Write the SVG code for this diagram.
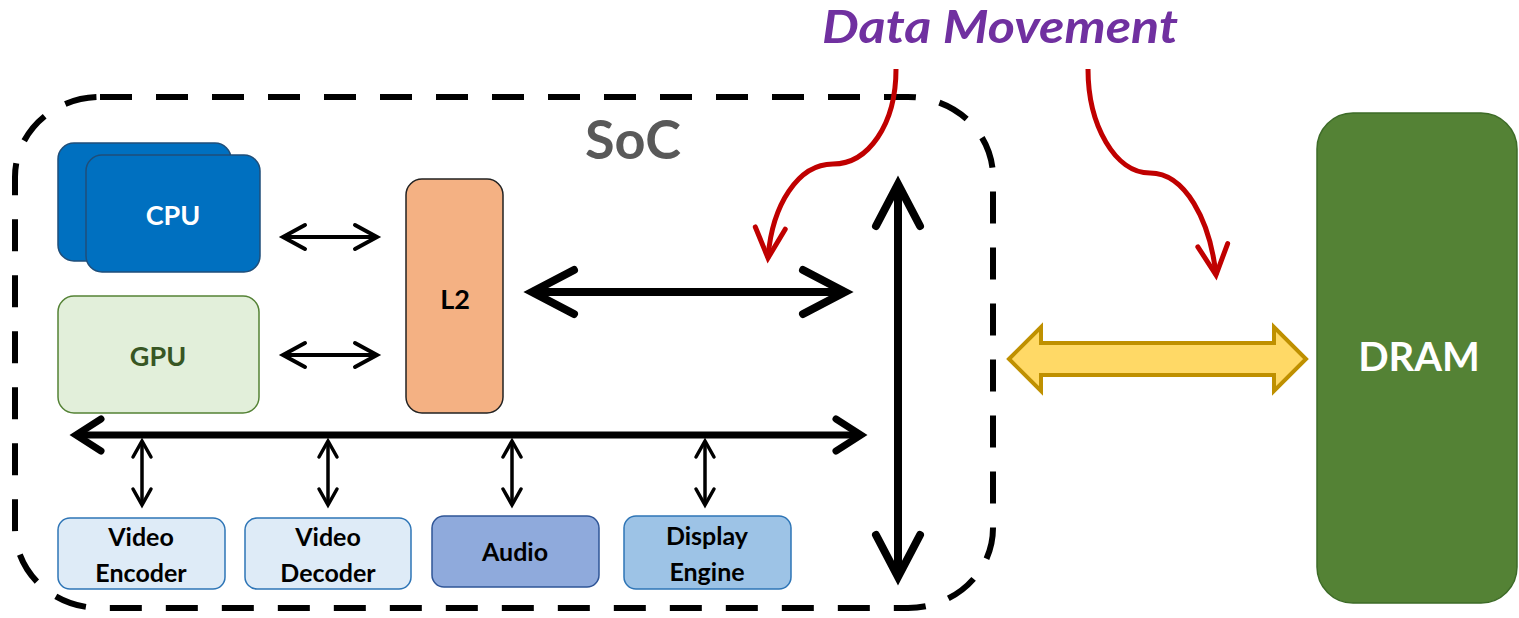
<svg xmlns="http://www.w3.org/2000/svg" width="1519" height="618" viewBox="0 0 1519 618">
<style>
.lbl{font-family:Lato,"Open Sans","Liberation Sans",sans-serif;font-weight:bold;text-anchor:middle;dominant-baseline:central}
.sub{font-family:Lato,"Open Sans","Liberation Sans",sans-serif;font-weight:bold;text-anchor:middle;font-size:25px;fill:#000}
.box{stroke-width:1.5}
.small{stroke:#000;stroke-width:4;fill:none}
.vsmall{stroke:#000;stroke-width:3.5;fill:none}
.big{stroke:#000;stroke-width:8;fill:none}
.bus{stroke:#000;stroke-width:7;fill:none}
.red{stroke:#C00000;stroke-width:5;fill:none}
</style>
<defs>
<marker id="mSmall" markerUnits="userSpaceOnUse" viewBox="-30 -20 40 40" markerWidth="40" markerHeight="40" refX="0" refY="0" orient="auto-start-reverse" overflow="visible">
<path d="M-22,-12 L0,0 L-22,12" fill="none" stroke="#000" stroke-width="4" stroke-linecap="round"/>
</marker>
<marker id="mVsmall" markerUnits="userSpaceOnUse" viewBox="-30 -20 40 40" markerWidth="40" markerHeight="40" refX="0" refY="0" orient="auto-start-reverse" overflow="visible">
<path d="M-16,-9 L0,0 L-16,9" fill="none" stroke="#000" stroke-width="3.5" stroke-linecap="round"/>
</marker>
<marker id="mBig" markerUnits="userSpaceOnUse" viewBox="-60 -40 80 80" markerWidth="80" markerHeight="80" refX="0" refY="0" orient="auto-start-reverse" overflow="visible">
<path d="M-42,-22 L0,0 L-42,22" fill="none" stroke="#000" stroke-width="8" stroke-linecap="round"/>
</marker>
<marker id="mBus" markerUnits="userSpaceOnUse" viewBox="-40 -30 60 60" markerWidth="60" markerHeight="60" refX="0" refY="0" orient="auto-start-reverse" overflow="visible">
<path d="M-25,-16 L0,0 L-25,16" fill="none" stroke="#000" stroke-width="7" stroke-linecap="round"/>
</marker>
<marker id="mRed" markerUnits="userSpaceOnUse" viewBox="-40 -30 60 60" markerWidth="60" markerHeight="60" refX="0" refY="0" orient="auto" overflow="visible">
<path d="M-30,-15 L0,0 L-30,15" fill="none" stroke="#C00000" stroke-width="5" stroke-linecap="round"/>
</marker>
</defs>
<rect width="1519" height="618" fill="#fff"/>

<g id="soc">
<rect x="15" y="97" width="978" height="511" rx="85" ry="80" fill="none" stroke="#000" stroke-width="6" stroke-dasharray="32 24"/>
<text class="lbl" x="633" y="138" font-size="54" fill="#595959">SoC</text>
</g>

<g id="cpu">
<rect x="58" y="143" width="173" height="118" rx="16" fill="#0070C0" stroke="#1F4E79" class="box"/>
<rect x="86" y="155" width="174" height="117" rx="16" fill="#0070C0" stroke="#1F4E79" class="box"/>
<text class="lbl" x="173" y="214" font-size="27" fill="#fff">CPU</text>
</g>

<g id="gpu">
<rect x="58" y="296" width="201" height="117" rx="16" fill="#E2EFDA" stroke="#548235" class="box"/>
<text class="lbl" x="158" y="355" font-size="27" fill="#375623">GPU</text>
</g>

<g id="l2">
<rect x="406" y="179" width="97" height="234" rx="16" fill="#F4B183" stroke="#222" class="box"/>
<text class="lbl" x="455" y="298" font-size="27" fill="#000">L2</text>
</g>

<g id="venc">
<rect x="58" y="518" width="167" height="71" rx="12" fill="#DEEBF7" stroke="#2E75B6" class="box"/>
<text class="sub" x="141" y="546">Video</text>
<text class="sub" x="141" y="582">Encoder</text>
</g>

<g id="vdec">
<rect x="245" y="518" width="166" height="71" rx="12" fill="#DEEBF7" stroke="#2E75B6" class="box"/>
<text class="sub" x="328" y="546">Video</text>
<text class="sub" x="328" y="582">Decoder</text>
</g>

<g id="audio">
<rect x="432" y="516" width="167" height="71" rx="12" fill="#8FAADC" stroke="#2F5597" class="box"/>
<text class="sub" x="515" y="561">Audio</text>
</g>

<g id="display">
<rect x="624" y="516" width="167" height="73" rx="12" fill="#9DC3E6" stroke="#2E75B6" class="box"/>
<text class="sub" x="707" y="545">Display</text>
<text class="sub" x="707" y="581">Engine</text>
</g>

<g id="dram">
<rect x="1317" y="113" width="200" height="490" rx="36" fill="#548235" stroke="#3D6B27" class="box"/>
<text class="lbl" x="1419" y="356" font-size="40" fill="#fff">DRAM</text>
</g>

<g id="label-data-movement">
<text x="822" y="43" font-family="Lato,'Open Sans','Liberation Sans',sans-serif" font-weight="bold" font-style="italic" font-size="45" fill="#7030A0" textLength="356" lengthAdjust="spacingAndGlyphs">Data Movement</text>
</g>

<g id="connectors">
<line class="small" x1="283" y1="237" x2="377" y2="237" marker-start="url(#mSmall)" marker-end="url(#mSmall)"/>
<line class="small" x1="283" y1="355" x2="377" y2="355" marker-start="url(#mSmall)" marker-end="url(#mSmall)"/>
<line class="big" x1="532" y1="292" x2="845" y2="292" marker-start="url(#mBig)" marker-end="url(#mBig)"/>
<line class="big" x1="898" y1="184" x2="898" y2="577" marker-start="url(#mBig)" marker-end="url(#mBig)"/>
<line class="bus" x1="76" y1="435" x2="861" y2="435" marker-start="url(#mBus)" marker-end="url(#mBus)"/>
<line class="vsmall" x1="142" y1="441" x2="142" y2="505" marker-start="url(#mVsmall)" marker-end="url(#mVsmall)"/>
<line class="vsmall" x1="328" y1="441" x2="328" y2="505" marker-start="url(#mVsmall)" marker-end="url(#mVsmall)"/>
<line class="vsmall" x1="512" y1="441" x2="512" y2="505" marker-start="url(#mVsmall)" marker-end="url(#mVsmall)"/>
<line class="vsmall" x1="705" y1="441" x2="705" y2="505" marker-start="url(#mVsmall)" marker-end="url(#mVsmall)"/>
<path class="red" d="M896,69 C896,125 868,164 833,164 C798,164 772,205 768,258" marker-end="url(#mRed)"/>
<path class="red" d="M1088,69 C1088,125 1115,173 1150,173 C1185,173 1210,220 1216,275" marker-end="url(#mRed)"/>
<path d="M1009,359 L1041,327 L1041,343 L1274,343 L1274,327 L1306,359 L1274,391 L1274,375 L1041,375 L1041,391 Z" fill="#FFD966" stroke="#BF9000" stroke-width="4"/>
</g>
</svg>
